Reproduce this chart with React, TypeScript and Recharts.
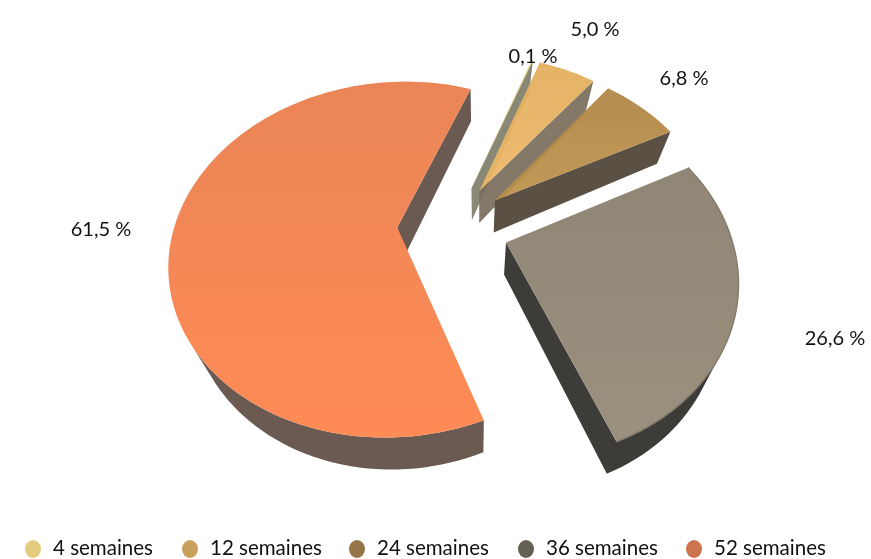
import React from "react";
import { PieChart, Pie, Legend } from "recharts";

const categories = ["4 semaines", "12 semaines", "24 semaines", "36 semaines", "52 semaines"];
const shares = [0.1, 5.0, 6.8, 26.6, 61.5];

const legendColors = ["#E3CC7C", "#C9A05C", "#967649", "#646053", "#CC7450"];
const sideColors = ["#7F7D69", "#796C5C", "#5A5043", "#3E3C38", "#6A5A52"];
const faceTop = ["#E2C46E", "#E2AE5C", "#AE8440", "#8F8675", "#EA8557"];
const faceBottom = ["#E8C873", "#EDB868", "#BC9048", "#9C907E", "#FF8B55"];
const faceOpacity = [1, 0.94, 0.92, 1, 1];
const rimColors = ["none", "none", "none", "#857C6E", "none"];

// label centres, relative to the pie centre
const labelOffsets = [
  [80, -172],
  [142, -199],
  [231, -150],
  [382, 110],
  [-352, 1],
];

const rows = categories.map((name, i) => ({ name, value: shares[i], fill: legendColors[i] }));

const CX = 453;
const CY = 227;
const RADIUS = 223;
const FLATTEN = 172 / 223;
const PERSPECTIVE = 0.18;
const EXPLODE = 0.25;
const DEPTH = 32;
const FONT = "Lato, 'Noto Sans', sans-serif";

// unit circle position -> screen, far side (wy > 0) shrinks
function project(wx: number, wy: number, cx: number, cy: number, r: number) {
  const s = 1 / (1 + PERSPECTIVE * wy);
  return [cx + r * wx * s, cy - r * FLATTEN * wy * s];
}

function Slice3D(props: any) {
  const { cx, cy, outerRadius, startAngle, endAngle, index } = props;
  const a1 = 90 - startAngle;
  const a2 = 90 - endAngle;
  const mid = (((a1 + a2) / 2) * Math.PI) / 180;
  const ex = EXPLODE * Math.sin(mid);
  const ey = EXPLODE * Math.cos(mid);

  const pts: number[][] = [project(ex, ey, cx, cy, outerRadius)];
  const steps = Math.max(2, Math.ceil((a2 - a1) / 2));
  for (let i = 0; i <= steps; i++) {
    const t = ((a1 + ((a2 - a1) * i) / steps) * Math.PI) / 180;
    pts.push(project(ex + Math.sin(t), ey + Math.cos(t), cx, cy, outerRadius));
  }

  const lower = (p: number[]) => [p[0] + (478 - p[0]) * 0.07, p[1] + DEPTH];
  let walls = "";
  pts.forEach((p, i) => {
    const q = pts[(i + 1) % pts.length];
    const pl = lower(p);
    const ql = lower(q);
    const cross = (q[0] - p[0]) * (pl[1] - p[1]) - (q[1] - p[1]) * (pl[0] - p[0]);
    if (cross < 0) {
      walls += `M${p[0]},${p[1]}L${q[0]},${q[1]}L${ql[0]},${ql[1]}L${pl[0]},${pl[1]}Z`;
    }
  });
  const face = "M" + pts.map((p) => `${p[0]},${p[1]}`).join("L") + "Z";
  const rim = "M" + pts.slice(1).map((p) => `${p[0]},${p[1]}`).join("L");

  return (
    <g>
      <path d={walls} fill={sideColors[index]} opacity={index < 2 ? 0.92 : 1} />
      <path d={face} fill={`url(#face${index})`} fillOpacity={faceOpacity[index]} />
      <path d={rim} fill="none" stroke={rimColors[index]} strokeWidth={1.5} />
    </g>
  );
}

function SliceLabel(props: any) {
  const off = labelOffsets[props.index];
  return (
    <text
      x={CX + off[0]}
      y={CY + off[1]}
      textAnchor="middle"
      dominantBaseline="central"
      fontFamily={FONT}
      fontSize={20}
      fill="#111"
    >
      {props.value.toFixed(1).replace(".", ",") + " %"}
    </text>
  );
}

function LegendRow(props: any) {
  const lefts = [25, 182, 349, 518, 686];
  return (
    <div style={{ position: "relative", height: 24, fontFamily: FONT, fontSize: 20.5, color: "#111" }}>
      {(props.payload || []).map((item: any, i: number) => (
        <div key={i} style={{ position: "absolute", left: lefts[i], top: 0, whiteSpace: "nowrap", lineHeight: "24px" }}>
          <span
            style={{
              display: "inline-block",
              width: 16,
              height: 18,
              borderRadius: "50%",
              background: item.color,
              marginRight: 12,
              verticalAlign: -3,
            }}
          />
          {item.value}
        </div>
      ))}
    </div>
  );
}

export default function App() {
  return (
    <div style={{ position: "absolute", left: 0, top: 0, filter: "blur(0.5px)", background: "#fff" }}>
      <PieChart width={871} height={559} margin={{ top: 0, right: 0, bottom: 0, left: 0 }}>
        <defs>
          {faceTop.map((c, i) => (
            <linearGradient key={i} id={`face${i}`} x1="0" y1="0" x2="0" y2="1">
              <stop offset="0" stopColor={c} />
              <stop offset="1" stopColor={faceBottom[i]} />
            </linearGradient>
          ))}
        </defs>
        <Pie
          data={rows}
          dataKey="value"
          nameKey="name"
          cx={CX}
          cy={CY}
          outerRadius={RADIUS}
          startAngle={70}
          endAngle={-290}
          stroke="none"
          isAnimationActive={false}
          shape={Slice3D}
          label={SliceLabel}
          labelLine={false}
        />
        <Legend
          content={LegendRow}
          verticalAlign="bottom"
          itemSorter={null}
          wrapperStyle={{ left: 0, bottom: 0, width: 871, height: 24 }}
        />
      </PieChart>
    </div>
  );
}
